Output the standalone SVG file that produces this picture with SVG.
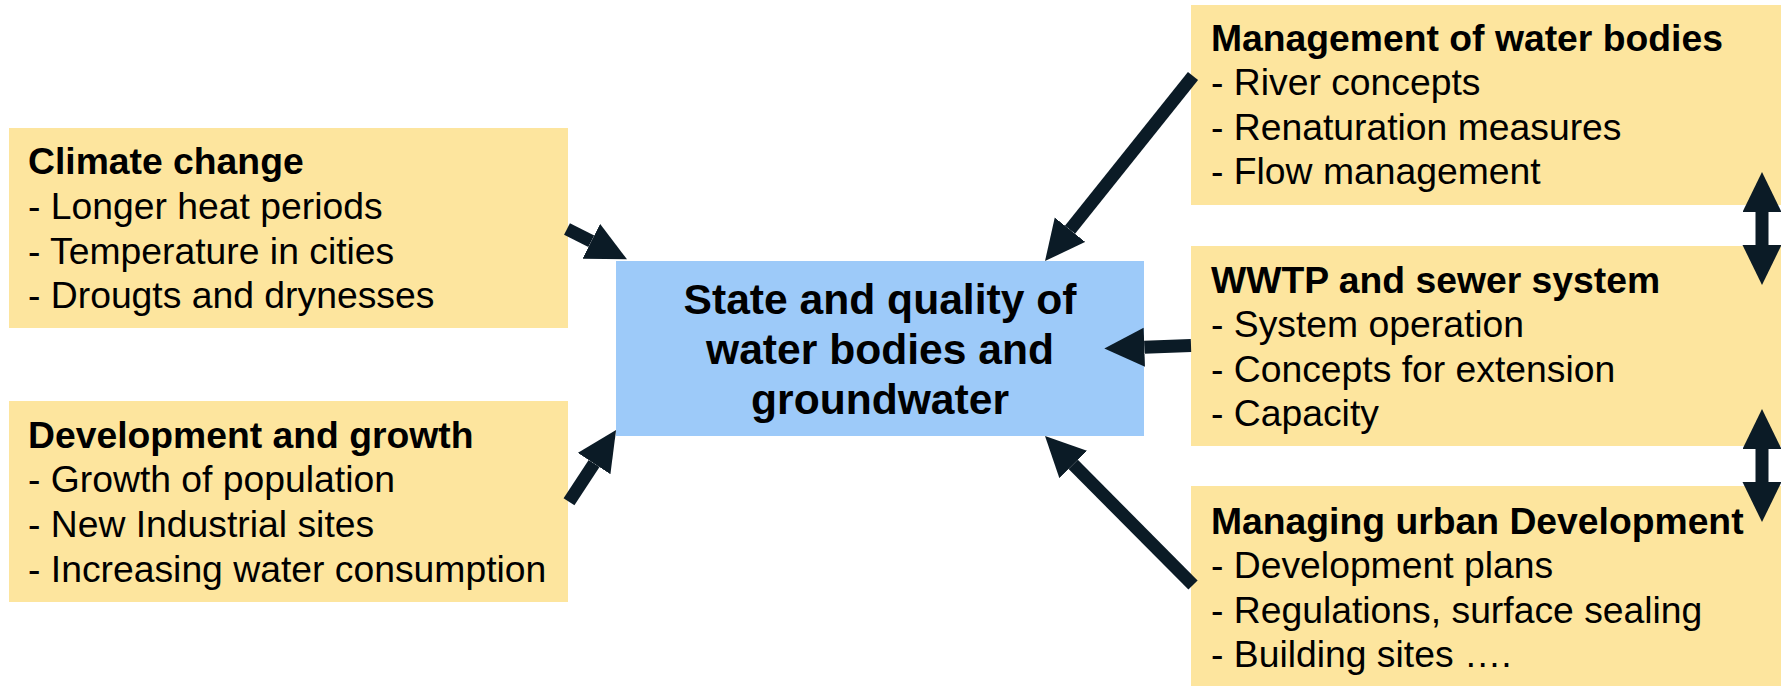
<svg xmlns="http://www.w3.org/2000/svg" width="1781" height="686" viewBox="0 0 1781 686">
  <style>
    .box { fill: #FDE59E; }
    .core { fill: #9DCAF9; }
    text { font-family: "Liberation Sans", Arial, sans-serif; fill: #000; }
    .t { font-size: 37.3px; }
    .h { font-size: 37.3px; font-weight: bold; }
    .c { font-size: 42.6px; font-weight: bold; text-anchor: middle; }
    .arrow { stroke: #0B1B26; stroke-width: 13; fill: none; marker-end: url(#head); }
    .both { stroke: #0B1B26; stroke-width: 13; fill: none; marker-start: url(#headR); marker-end: url(#head); }
  </style>
  <defs>
    <!-- arrowhead: base sits on the line end, tip 40px further on -->
    <marker id="head" markerUnits="userSpaceOnUse" markerWidth="40" markerHeight="40" viewBox="0 0 40 40" refX="0" refY="19.5" orient="auto">
      <path d="M0,0 L40,19.5 L0,39 Z" fill="#0B1B26"/>
    </marker>
    <marker id="headR" markerUnits="userSpaceOnUse" markerWidth="40" markerHeight="40" viewBox="0 0 40 40" refX="0" refY="19.5" orient="auto-start-reverse">
      <path d="M0,0 L40,19.5 L0,39 Z" fill="#0B1B26"/>
    </marker>
  </defs>

  <rect width="1781" height="686" fill="#FFFFFF"/>

  <g id="climate-change">
    <rect class="box" x="9" y="128" width="559" height="200"/>
    <text class="h" x="28" y="174">Climate change</text>
    <text class="t" x="28" y="219">- Longer heat periods</text>
    <text class="t" x="28" y="264">- Temperature in cities</text>
    <text class="t" x="28" y="308">- Drougts and drynesses</text>
  </g>

  <g id="development-growth">
    <rect class="box" x="9" y="401" width="559" height="201"/>
    <text class="h" x="28" y="448">Development and growth</text>
    <text class="t" x="28" y="492">- Growth of population</text>
    <text class="t" x="28" y="537">- New Industrial sites</text>
    <text class="t" x="28" y="582">- Increasing water consumption</text>
  </g>

  <g id="water-state">
    <rect class="core" x="616" y="261" width="528" height="175"/>
    <text class="c" x="880" y="314">State and quality of</text>
    <text class="c" x="880" y="364">water bodies and</text>
    <text class="c" x="880" y="414">groundwater</text>
  </g>

  <g id="water-body-management">
    <rect class="box" x="1191" y="5" width="590" height="200"/>
    <text class="h" x="1211" y="51">Management of water bodies</text>
    <text class="t" x="1211" y="95">- River concepts</text>
    <text class="t" x="1211" y="140">- Renaturation measures</text>
    <text class="t" x="1211" y="184">- Flow management</text>
  </g>

  <g id="wwtp-sewer">
    <rect class="box" x="1191" y="246" width="590" height="200"/>
    <text class="h" x="1211" y="293">WWTP and sewer system</text>
    <text class="t" x="1211" y="337">- System operation</text>
    <text class="t" x="1211" y="382">- Concepts for extension</text>
    <text class="t" x="1211" y="426">- Capacity</text>
  </g>

  <g id="urban-development">
    <rect class="box" x="1191" y="486" width="590" height="200"/>
    <text class="h" x="1211" y="534">Managing urban Development</text>
    <text class="t" x="1211" y="578">- Development plans</text>
    <text class="t" x="1211" y="623">- Regulations, surface sealing</text>
    <text class="t" x="1211" y="667">- Building sites ….</text>
  </g>

  <g id="connectors">
    <line class="arrow" x1="567" y1="229" x2="591.3" y2="241.3"/>
    <line class="arrow" x1="569" y1="501.7" x2="594.1" y2="463.5"/>
    <line class="arrow" x1="1193" y1="76" x2="1070" y2="229.8"/>
    <line class="arrow" x1="1191" y1="345.6" x2="1144.3" y2="347.2"/>
    <line class="arrow" x1="1193" y1="585" x2="1073.2" y2="464.4"/>
    <line class="both" x1="1762" y1="212" x2="1762" y2="245"/>
    <line class="both" x1="1762" y1="449" x2="1762" y2="482"/>
  </g>
</svg>
